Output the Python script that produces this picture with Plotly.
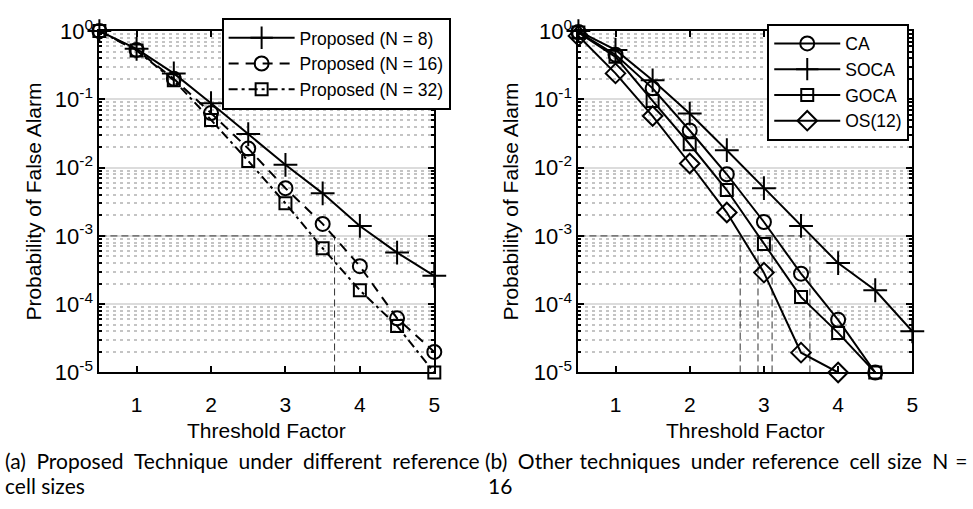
import plotly.graph_objects as go

# ---------------- data ----------------
threshold = [0.5, 1.0, 1.5, 2.0, 2.5, 3.0, 3.5, 4.0, 4.5, 5.0]

# (a) proposed technique, different reference cell sizes
pfa_n8 = [1.0, 0.55, 0.24, 0.088, 0.031, 0.011, 0.0042, 0.0014, 0.00057, 0.00026]
pfa_n16 = [1.0, 0.53, 0.20, 0.063, 0.019, 0.005, 0.0015, 0.00036, 6.2e-5, 2.0e-5]
pfa_n32 = [1.0, 0.52, 0.19, 0.050, 0.0125, 0.003, 0.00066, 0.00016, 4.8e-5, 1.0e-5]

# (b) other techniques, N = 16
pfa_ca = [0.97, 0.45, 0.145, 0.035, 0.008, 0.0016, 0.00028, 5.9e-5, 1.0e-5]
pfa_soca = [1.0, 0.53, 0.19, 0.062, 0.018, 0.005, 0.0014, 0.0004, 0.00016, 4.0e-5]
pfa_goca = [0.95, 0.42, 0.095, 0.022, 0.0047, 0.00076, 0.000127, 3.8e-5, 1.0e-5]
pfa_os12 = [0.85, 0.24, 0.057, 0.0115, 0.0022, 0.00029, 1.95e-5, 1.0e-5]

# design target Pfa and the threshold factors where curves cross it
target_pfa = 1e-3
cross_a = [3.66]
cross_b = [2.68, 2.92, 3.11, 3.62]

x_ticks = [1, 2, 3, 4, 5]
y_ticks = [1e-5, 1e-4, 1e-3, 1e-2, 1e-1, 1]
y_ticktext = ["10<sup>-5</sup>", "10<sup>-4</sup>", "10<sup>-3</sup>",
              "10<sup>-2</sup>", "10<sup>-1</sup>", "10<sup>0</sup>"]
y_minor = [m * 10.0 ** e for e in range(-5, 0) for m in range(2, 10)]

axis_title = "Threshold Factor"
y_title = "Probability of False Alarm"
cap_a1 = "(a) Proposed Technique under different reference"
cap_a2 = "cell sizes"
cap_b1 = "(b) Other techniques under reference cell size N ="
cap_b2 = "16"

# ---------------- figure ----------------
W, H = 973, 509
FONT = "Liberation Sans, Arial, sans-serif"
fig = go.Figure()

def add(x, y, name, symbol, size, dash, xa, ya, legend):
    fig.add_trace(go.Scatter(
        x=x, y=y, name=name, mode="lines+markers",
        line=dict(color="black", width=2, dash=dash),
        marker=dict(symbol=symbol, size=size, color="black",
                    line=dict(color="black", width=2)),
        xaxis=xa, yaxis=ya, legend=legend, cliponaxis=False))

def ref_lines(crosses, xa, ya):
    xs, ys = [threshold[0], max(crosses)], [target_pfa, target_pfa]
    fig.add_trace(go.Scatter(x=xs, y=ys, mode="lines", showlegend=False,
                             line=dict(color="#333333", width=1, dash="7px,4px"),
                             xaxis=xa, yaxis=ya, hoverinfo="skip"))
    for c in crosses:
        fig.add_trace(go.Scatter(x=[c, c], y=[1e-5, target_pfa], mode="lines",
                                 showlegend=False,
                                 line=dict(color="#333333", width=1, dash="7px,4px"),
                                 xaxis=xa, yaxis=ya, hoverinfo="skip"))

ref_lines(cross_a, "x", "y")
ref_lines(cross_b, "x2", "y2")

add(threshold, pfa_n8, "Proposed (N = 8)", "cross-thin-open", 17, "solid", "x", "y", "legend")
add(threshold, pfa_n16, "Proposed (N = 16)", "circle-open", 14, "10px,7px", "x", "y", "legend")
add(threshold, pfa_n32, "Proposed (N = 32)", "square-open", 12, "9px,4px,3px,4px", "x", "y", "legend")

add(threshold[:len(pfa_ca)], pfa_ca, "CA", "circle-open", 14, "solid", "x2", "y2", "legend2")
add(threshold[:len(pfa_soca)], pfa_soca, "SOCA", "cross-thin-open", 17, "solid", "x2", "y2", "legend2")
add(threshold[:len(pfa_goca)], pfa_goca, "GOCA", "square-open", 12, "solid", "x2", "y2", "legend2")
add(threshold[:len(pfa_os12)], pfa_os12, "OS(12)", "diamond-open", 15, "solid", "x2", "y2", "legend2")

def xaxis(dom, anchor):
    return dict(domain=dom, anchor=anchor, range=[0.5, 5], tickvals=x_ticks,
                ticks="inside", ticklen=6, tickwidth=1.5, tickcolor="black",
                showline=True, linecolor="black", linewidth=2, mirror="ticks",
                showgrid=False, zeroline=False, ticklabelstandoff=12,
                tickfont=dict(family=FONT, size=21, color="black"))

def yaxis(dom, anchor):
    return dict(domain=dom, anchor=anchor, type="log", range=[-5, 0],
                tickvals=y_ticks, ticktext=y_ticktext,
                ticks="inside", ticklen=6, tickwidth=1.5, tickcolor="black",
                showline=True, linecolor="black", linewidth=2, mirror="ticks",
                showgrid=True, gridcolor="#dcdcdc", gridwidth=2, zeroline=False,
                minor=dict(tickvals=y_minor, ticks="inside", ticklen=3,
                           tickcolor="black", showgrid=True, gridcolor="#c4c4c4",
                           gridwidth=1.5, griddash="3px,4px"),
                tickfont=dict(family=FONT, size=22, color="black"))

ydom = [1 - 378 / H, 1 - 16 / H]
leg_common = dict(xanchor="left", yanchor="top", bgcolor="white",
                  bordercolor="black", borderwidth=2,
                  font=dict(family=FONT, size=17.5, color="black"),
                  itemwidth=66, tracegroupgap=0)
fig.update_layout(
    width=W, height=H, margin=dict(l=0, r=0, t=0, b=0),
    paper_bgcolor="white", plot_bgcolor="white",
    xaxis=xaxis([100 / W, 437 / W], "y"),
    yaxis=yaxis(ydom, "x"),
    xaxis2=xaxis([582 / W, 918 / W], "y2"),
    yaxis2=yaxis(ydom, "x2"),
    legend=dict(x=223 / W, y=1 - 2 / H, **leg_common),
    legend2=dict(x=772 / W, y=1 - 8 / H, **leg_common),
    showlegend=True,
)

ann = []
for cx in [268.5, 750]:
    ann.append(dict(x=cx / W, y=1 - 440 / H, xref="paper", yref="paper",
                    text=axis_title, showarrow=False, xanchor="center", yanchor="middle",
                    font=dict(family=FONT, size=21, color="black")))
for cx in [34, 514]:
    ann.append(dict(x=cx / W, y=1 - 197 / H, xref="paper", yref="paper",
                    text=y_title, showarrow=False, textangle=-90,
                    xanchor="center", yanchor="middle",
                    font=dict(family=FONT, size=21, color="black")))

def justify(text, spaces):
    words = text.split(" ")
    out = words[0]
    for i, w in enumerate(words[1:]):
        out += spaces[i % len(spaces)] + w
    return out

CAPF = "Lato, Open Sans, sans-serif"
ann += [
    dict(x=3 / W, y=1 - 471 / H, text=justify(cap_a1, ["\u2002"]), xanchor="left"),
    dict(x=3 / W, y=1 - 498 / H, text=cap_a2, xanchor="left"),
    dict(x=486 / W, y=1 - 471 / H, text=justify(cap_b1, ["\u2002", "\u2004"]), xanchor="left"),
    dict(x=503 / W, y=1 - 498 / H, text=cap_b2, xanchor="center"),
]
for a in ann[-4:]:
    a.update(xref="paper", yref="paper", showarrow=False, yanchor="middle",
             font=dict(family=CAPF, size=21, color="black"))
fig.update_layout(annotations=ann)

fig.write_html("out.html")
